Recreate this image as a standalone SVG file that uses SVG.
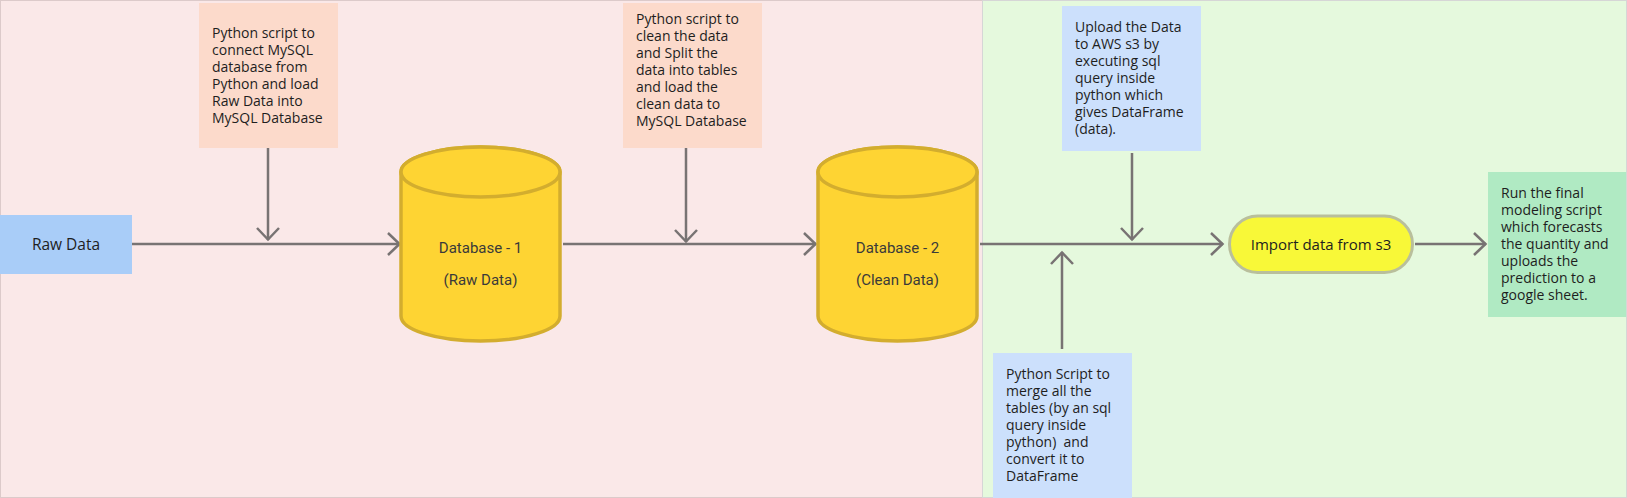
<svg xmlns="http://www.w3.org/2000/svg" width="1627" height="498" viewBox="0 0 1627 498">
<defs>
<style>
.t{font-family:"Open Sans","Liberation Sans",sans-serif;font-size:14px;fill:#1e1e1e}
.c{font-family:Roboto,"Liberation Sans",sans-serif;font-size:15px;fill:#3a3a3a;text-anchor:middle}
.ln{fill:none;stroke:#787373;stroke-width:2.5}
.cyl{fill:#fed433;stroke:#d3ad2e;stroke-width:3.5}
</style>
<marker id="ah" markerUnits="userSpaceOnUse" markerWidth="16" markerHeight="26" refX="13" refY="12" orient="auto">
<path d="M1,1 L12.5,12 L1,23" fill="none" stroke="#787373" stroke-width="2.5"/>
</marker>
</defs>
<rect id="bg-pink" x="0.5" y="0.5" width="982" height="497" fill="#fae8e8" stroke="#dccaca" stroke-width="1"/>
<rect id="bg-green" x="982.5" y="0.5" width="644" height="497" fill="#e5f9dd" stroke="#d6d6d6" stroke-width="1"/>

<g id="connectors">
<line class="ln" x1="132" y1="244" x2="400" y2="244" marker-end="url(#ah)"/>
<line class="ln" x1="268" y1="148" x2="268" y2="240" marker-end="url(#ah)"/>
<line class="ln" x1="563" y1="244" x2="816" y2="244" marker-end="url(#ah)"/>
<line class="ln" x1="686" y1="148" x2="686" y2="242" marker-end="url(#ah)"/>
<line class="ln" x1="980" y1="244" x2="1223" y2="244" marker-end="url(#ah)"/>
<line class="ln" x1="1132" y1="153" x2="1132" y2="240" marker-end="url(#ah)"/>
<line class="ln" x1="1062" y1="349" x2="1062" y2="252" marker-end="url(#ah)"/>
<line class="ln" x1="1415" y1="244" x2="1486" y2="244" marker-end="url(#ah)"/>
</g>

<g id="raw-data">
<rect x="0" y="215" width="132" height="59" fill="#a9cdf8"/>
<text class="t" x="66" y="250" text-anchor="middle" style="font-size:15.5px">Raw Data</text>
</g>

<g id="note-connect">
<rect x="199" y="3" width="139" height="145" fill="#fcdacb"/>
<text class="t" x="212" y="38">Python script to</text>
<text class="t" x="212" y="55">connect MySQL</text>
<text class="t" x="212" y="72">database from</text>
<text class="t" x="212" y="89">Python and load</text>
<text class="t" x="212" y="106">Raw Data into</text>
<text class="t" x="212" y="123">MySQL Database</text>
</g>

<g id="db1">
<path class="cyl" d="M401,172 L401,316 A79.5,25 0 0 0 560,316 L560,172 A79.5,25 0 0 0 401,172 Z"/>
<ellipse class="cyl" cx="480.5" cy="172" rx="79.5" ry="25"/>
<text class="c" x="480.5" y="253">Database - 1</text>
<text class="c" x="480.5" y="285">(Raw Data)</text>
</g>

<g id="note-clean">
<rect x="623" y="3" width="139" height="145" fill="#fcdacb"/>
<text class="t" x="636" y="24">Python script to</text>
<text class="t" x="636" y="41">clean the data</text>
<text class="t" x="636" y="58">and Split the</text>
<text class="t" x="636" y="75">data into tables</text>
<text class="t" x="636" y="92">and load the</text>
<text class="t" x="636" y="109">clean data to</text>
<text class="t" x="636" y="126">MySQL Database</text>
</g>

<g id="db2">
<path class="cyl" d="M818,172 L818,316 A79.5,25 0 0 0 977,316 L977,172 A79.5,25 0 0 0 818,172 Z"/>
<ellipse class="cyl" cx="897.5" cy="172" rx="79.5" ry="25"/>
<text class="c" x="897.5" y="253">Database - 2</text>
<text class="c" x="897.5" y="285">(Clean Data)</text>
</g>

<g id="note-upload">
<rect x="1062" y="6" width="139" height="145" fill="#cce0fc"/>
<text class="t" x="1075" y="32">Upload the Data</text>
<text class="t" x="1075" y="49">to AWS s3 by</text>
<text class="t" x="1075" y="66">executing sql</text>
<text class="t" x="1075" y="83">query inside</text>
<text class="t" x="1075" y="100">python which</text>
<text class="t" x="1075" y="117">gives DataFrame</text>
<text class="t" x="1075" y="134">(data).</text>
</g>

<g id="note-merge">
<rect x="993" y="353" width="139" height="145" fill="#cce0fc"/>
<text class="t" x="1006" y="379">Python Script to</text>
<text class="t" x="1006" y="396">merge all the</text>
<text class="t" x="1006" y="413">tables (by an sql</text>
<text class="t" x="1006" y="430">query inside</text>
<text class="t" x="1006" y="447" xml:space="preserve">python)  and</text>
<text class="t" x="1006" y="464">convert it to</text>
<text class="t" x="1006" y="481">DataFrame</text>
</g>

<g id="import-s3">
<rect x="1229.5" y="216" width="183" height="56.5" rx="28" ry="28" fill="#f8f838" stroke="#b9bf9c" stroke-width="3"/>
<text class="t" x="1321" y="249.5" text-anchor="middle" style="font-size:15px">Import data from s3</text>
</g>

<g id="note-model">
<rect x="1488" y="172" width="138" height="145" fill="#b0eac3"/>
<text class="t" x="1501" y="198">Run the final</text>
<text class="t" x="1501" y="215">modeling script</text>
<text class="t" x="1501" y="232">which forecasts</text>
<text class="t" x="1501" y="249">the quantity and</text>
<text class="t" x="1501" y="266">uploads the</text>
<text class="t" x="1501" y="283">prediction to a</text>
<text class="t" x="1501" y="300">google sheet.</text>
</g>
</svg>
